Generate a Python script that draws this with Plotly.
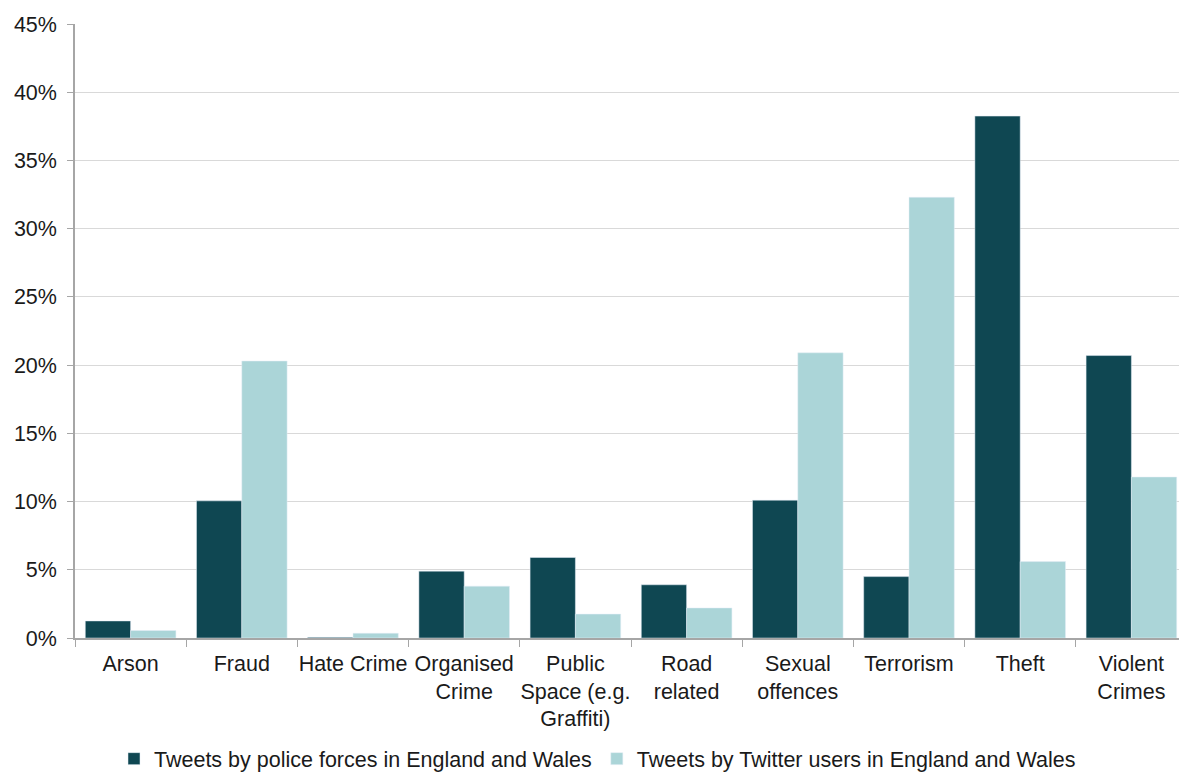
import plotly.graph_objects as go

categories = ["Arson", "Fraud", "Hate Crime", "Organised<br>Crime", "Public<br>Space (e.g.<br>Graffiti)",
              "Road<br>related", "Sexual<br>offences", "Terrorism", "Theft", "Violent<br>Crimes"]
police = [1.25, 10.05, 0.05, 4.9, 5.9, 3.9, 10.1, 4.5, 38.25, 20.7]
twitter = [0.55, 20.3, 0.35, 3.8, 1.75, 2.2, 20.9, 32.3, 5.6, 11.8]
series_names = ["Tweets by police forces in England and Wales", "Tweets by Twitter users in England and Wales"]
y_ticks = [0, 5, 10, 15, 20, 25, 30, 35, 40, 45]
y_labels = [f"{v}%" for v in y_ticks]

font = dict(family="Liberation Sans, Arial, sans-serif", size=21.5, color="#1a1a1a")

fig = go.Figure()
fig.add_trace(go.Bar(x=categories, y=police, name=series_names[0], marker_color="#0F4752"))
fig.add_trace(go.Bar(x=categories, y=twitter, name=series_names[1], marker_color="#ABD5D8"))

fig.update_layout(
    width=1179, height=766,
    margin=dict(l=67, r=0, t=16, b=136, autoexpand=False),
    paper_bgcolor="white", plot_bgcolor="white",
    barmode="group", bargap=0.185, bargroupgap=0,
    font=font,
    legend=dict(orientation="h", x=0.5, xanchor="center", xref="container",
                y=0.02, yanchor="middle", yref="container",
                font=dict(size=21.5), itemwidth=30, traceorder="normal"),
    xaxis=dict(showline=True, linecolor="#a6a6a6", linewidth=1.5, ticks="outside",
               tickson="boundaries", ticklen=7, tickcolor="#a6a6a6", tickangle=0,
               tickfont=font, automargin=False, ticklabelstandoff=5),
    yaxis=dict(range=[0, 45], tickvals=y_ticks, ticktext=y_labels, showgrid=True,
               gridcolor="#d9d9d9", gridwidth=1, showline=True, linecolor="#a6a6a6",
               linewidth=1.5, ticks="outside", ticklen=6, tickcolor="#a6a6a6",
               tickfont=font, zeroline=False, automargin=False, ticklabelstandoff=6),
)

fig.write_html("out.html")
